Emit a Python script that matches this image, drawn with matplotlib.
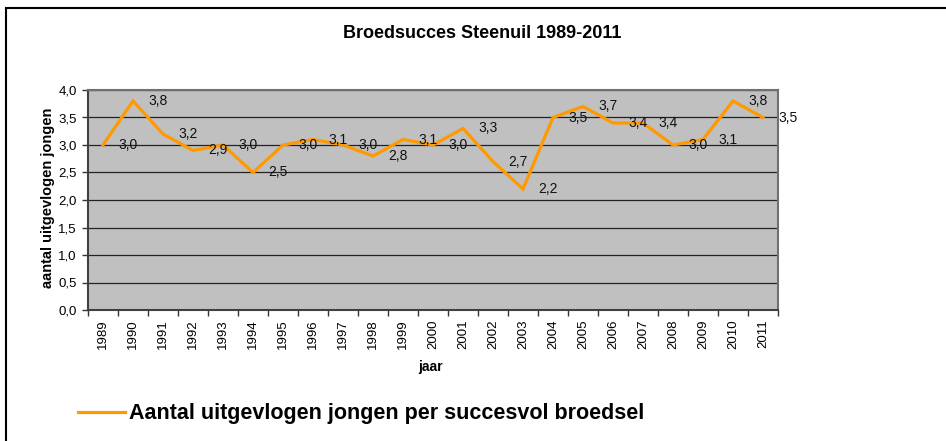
import matplotlib
matplotlib.use("Agg")
import matplotlib.pyplot as plt
from matplotlib.patches import Rectangle

plt.rcParams['font.family'] = ['Liberation Sans', 'DejaVu Sans']

# data
jaren = [str(j) for j in range(1989, 2012)]
jongen = [3.0, 3.8, 3.2, 2.9, 3.0, 2.5, 3.0, 3.1, 3.0, 2.8, 3.1, 3.0,
          3.3, 2.7, 2.2, 3.5, 3.7, 3.4, 3.4, 3.0, 3.1, 3.8, 3.5]
y_ticks = [0.0, 0.5, 1.0, 1.5, 2.0, 2.5, 3.0, 3.5, 4.0]

W, H = 946, 441
fig = plt.figure(figsize=(W / 100, H / 100), dpi=100)
ax = fig.add_axes([88 / W, 1 - 310 / H, 690 / W, 220 / H])
ax.set_facecolor('#C0C0C0')

x = list(range(len(jaren)))
line, = ax.plot(x, jongen, color='#FF9900', lw=2.3, solid_joinstyle='miter',
                label='Aantal uitgevlogen jongen per succesvol broedsel', zorder=3)

# data labels right of each point
for xi, v in zip(x, jongen):
    ax.annotate(f"{v:.1f}".replace('.', ','), (xi, v), xytext=(25, 0),
                textcoords='offset pixels', ha='center', va='center',
                fontsize=10, color='#111111', annotation_clip=False, zorder=4)

ax.set_xlim(-0.5, len(jaren) - 0.5)
ax.set_ylim(0, 4)
ax.set_yticks(y_ticks)
ax.set_yticklabels([f"{t:.1f}".replace('.', ',') for t in y_ticks], fontsize=9.5)
ax.set_xticks(x)
ax.set_xticklabels(jaren, rotation=90, fontsize=9.5)
ax.set_xticks([i - 0.5 for i in range(len(jaren) + 1)], minor=True)
ax.tick_params(axis='x', which='major', length=0, pad=7)
ax.tick_params(axis='x', which='minor', length=4, width=1, color='#333333')
ax.tick_params(axis='y', length=4, width=1, color='#333333', pad=4)

ax.yaxis.grid(True, color='#222222', lw=0.9)
ax.set_axisbelow(True)
for side, sp in ax.spines.items():
    sp.set_color('#707070')
    sp.set_linewidth(1.5)
ax.spines['left'].set_color('#404040')
ax.spines['bottom'].set_color('#404040')

fig.text(482 / W, 1 - 33 / H, 'Broedsucces Steenuil 1989-2011', ha='center', va='center',
         fontsize=13, fontweight='bold')
fig.text(48 / W, 1 - 198 / H, 'aantal uitgevlogen jongen', rotation=90, ha='center', va='center',
         fontsize=10.5, fontweight='bold')
fig.text(430 / W, 1 - 367 / H, 'jaar', ha='center', va='center', fontsize=10, fontweight='bold')

fig.legend(handles=[line], loc='center left', bbox_to_anchor=(78 / W, 1 - 414 / H),
           frameon=False, borderpad=0, borderaxespad=0, handlelength=2.2,
           handletextpad=0.15, prop={'size': 15.5, 'weight': 'bold'})

# chart frame (top and left edges visible)
fig.add_artist(Rectangle((6 / W, -0.2), 1.2, 1.2 - 8 / H, transform=fig.transFigure,
                         fill=False, ec='black', lw=1.5))

fig.savefig('out.png', dpi=100)
